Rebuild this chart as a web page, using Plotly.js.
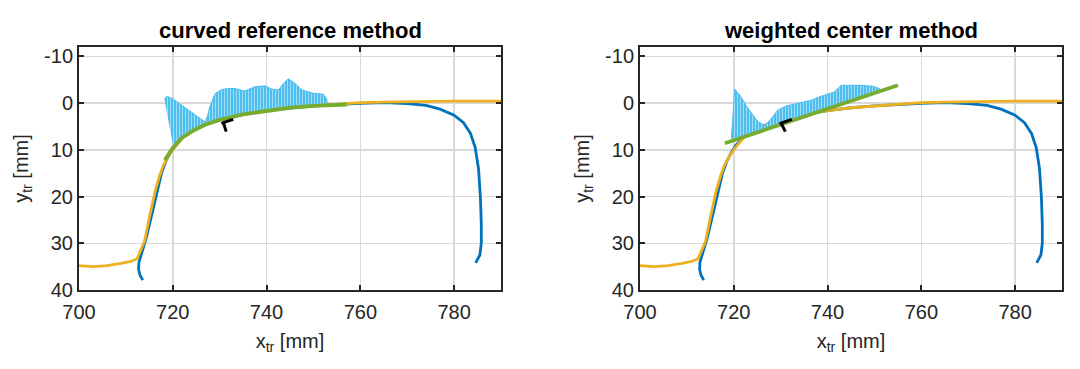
<!DOCTYPE html>
<html>
<head>
<meta charset="utf-8">
<script src="https://cdn.plot.ly/plotly-3.0.1.min.js"></script>
<style>html,body{margin:0;padding:0;background:#fff;}#chart{width:1080px;height:369px;}</style>
</head>
<body>
<div id="chart"></div>
<script>
// Measured trajectory (blue)
const blueX = [713.6, 713.0, 712.7, 712.8, 713.4, 714.3, 715.5, 716.6, 717.6, 718.5, 719.5, 720.5, 722.0, 724.5, 727.0, 730.0, 735.0, 740.0, 745.0, 750.0, 755.0, 760.0, 765.0, 770.0, 774.0, 777.0, 780.0, 782.0, 783.5, 784.5, 785.2, 785.6, 785.8, 785.8, 785.5, 784.6];
const blueY = [37.9, 36.8, 35.5, 34.0, 32.0, 29.0, 24.0, 19.0, 15.0, 12.5, 10.5, 9.0, 7.4, 5.8, 4.6, 3.6, 2.4, 1.6, 1.0, 0.6, 0.3, 0.05, -0.1, 0.1, 0.5, 1.3, 2.6, 4.2, 6.5, 9.5, 14.0, 20.0, 26.0, 30.0, 32.5, 34.2];
// Reference trajectory (yellow)
const yellowX = [699, 700, 703, 706, 709, 711, 712.4, 713.2, 714.0, 715.0, 716.2, 717.2, 718.0, 719.0, 720.0, 722.0, 724.5, 727.0, 730.0, 735.0, 740.0, 745.0, 750.0, 755.0, 760.0, 765.0, 770.0, 775.0, 780.0, 785.0, 791.0];
const yellowY = [34.8, 34.8, 35.0, 34.8, 34.3, 33.9, 33.3, 31.5, 29.5, 24.5, 19.0, 15.5, 13.3, 11.5, 10.0, 7.5, 5.8, 4.6, 3.6, 2.4, 1.6, 1.0, 0.6, 0.2, -0.1, -0.2, -0.3, -0.4, -0.4, -0.4, -0.4];

// Left panel: curved reference (green) and profile (light blue)
const curvedRefX = [718.3, 719.0, 720.0, 722.0, 724.5, 727.0, 730.0, 735.0, 740.0, 745.0, 750.0, 755.0, 757.1];
const curvedRefY = [12.2, 11.0, 9.6, 7.4, 5.8, 4.6, 3.6, 2.4, 1.6, 1.0, 0.6, 0.3, 0.3];
const profLeftX = [718.2, 718.7, 719.5, 720.5, 721.5, 723.0, 724.5, 726.0, 726.9, 727.4, 727.9, 729.0, 730.4, 731.8, 733.3, 735.4, 736.5, 737.5, 739.7, 741.1, 742.5, 743.6, 744.6, 746.1, 747.5, 750.0, 752.1, 752.8, 753.0];
const profLeftY = [-0.8, -1.4, -1.2, -0.6, 0.2, 1.2, 2.3, 3.4, 4.0, 2.8, 0.8, -2.0, -2.9, -3.1, -3.1, -2.6, -3.0, -3.5, -3.7, -3.0, -2.8, -4.2, -5.2, -4.2, -2.8, -2.1, -1.9, -1.0, 0.3];
const baseLeftX = [753.0, 750.0, 745.0, 740.0, 735.0, 730.0, 727.0, 724.5, 722.0, 720.1];
const baseLeftY = [0.35, 0.6, 1.0, 1.6, 2.4, 3.6, 4.6, 5.8, 7.4, 9.2];
const markLeftX = [730.4, 730.8, 732.9, null, 730.8, 731.4];
const markLeftY = [4.4, 4.2, 3.5, null, 4.2, 6.1];

// Right panel: weighted center line (green) and profile
const centerLineX = [718.1, 755.0];
const centerLineY = [8.6, -3.8];
const profRightX = [719.5, 719.9, 720.2, 721.3, 723.0, 725.2, 726.6, 728.0, 729.4, 731.2, 733.7, 736.5, 737.9, 739.4, 741.5, 742.9, 745.0, 747.2, 749.6, 751.1, 751.8];
const profRightY = [7.5, 1.0, -3.0, -1.7, 1.1, 4.0, 4.8, 3.3, 1.5, 0.6, 0.1, -0.6, -1.2, -1.7, -2.4, -3.8, -3.8, -3.8, -3.6, -3.1, -2.4];
const baseRightX = [751.8, 719.5];
const baseRightY = [-2.7, 8.1];
const markRightX = [729.8, 730.1, 732.4, null, 730.1, 731.0];
const markRightY = [4.5, 4.3, 3.5, null, 4.3, 6.1];

const titles = ['curved reference method', 'weighted center method'];
const xTicks = [700, 720, 740, 760, 780];
const yTicks = [-10, 0, 10, 20, 30, 40];

const C_BLUE = '#0072BD', C_YEL = '#EDB120', C_GRN = '#77AC30', C_LB = '#4DBEEE';

function panel(xa, ya, pX, pY, bX, bY, gX, gY, mX, mY) {
  const polyX = pX.concat(bX), polyY = pY.concat(bY);
  return [
    {x: blueX, y: blueY, mode: 'lines', line: {color: C_BLUE, width: 2.8}, xaxis: xa, yaxis: ya},
    {x: yellowX, y: yellowY, mode: 'lines', line: {color: C_YEL, width: 2.8}, xaxis: xa, yaxis: ya},
    {x: polyX, y: polyY, mode: 'lines', fill: 'toself', fillcolor: C_LB,
     fillpattern: {shape: '|', bgcolor: C_LB, fgcolor: '#a9e0f7', size: 3, solidity: 0.3},
     line: {color: C_LB, width: 1}, xaxis: xa, yaxis: ya},
    {x: gX, y: gY, mode: 'lines', line: {color: C_GRN, width: 3.8}, xaxis: xa, yaxis: ya},
    {x: mX, y: mY, mode: 'lines', line: {color: '#000000', width: 3}, connectgaps: false, xaxis: xa, yaxis: ya}
  ];
}

const data = [].concat(
  panel('x', 'y', profLeftX, profLeftY, baseLeftX, baseLeftY, curvedRefX, curvedRefY, markLeftX, markLeftY),
  panel('x2', 'y2', profRightX, profRightY, baseRightX, baseRightY, centerLineX, centerLineY, markRightX, markRightY)
);

const FONT = 'Liberation Sans, Arial, Helvetica, sans-serif';
function xax(dom, anchor) {
  return {domain: dom, anchor: anchor, range: [700, 790], tickvals: xTicks, ticktext: xTicks.map(String),
    showline: true, mirror: 'ticks', linecolor: '#262626', linewidth: 2, ticks: 'inside', ticklen: 5, tickwidth: 2, tickcolor: '#262626',
    showgrid: true, gridcolor: '#d9d9d9', gridwidth: 1.5, zeroline: false,
    tickfont: {family: FONT, size: 20, color: '#262626'}, ticklabelstandoff: 3,
    title: {text: 'x<sub>tr</sub> [mm]', font: {family: FONT, size: 20, color: '#262626'}, standoff: 12}};
}
function yax(dom, anchor) {
  return {domain: dom, anchor: anchor, range: [40, -12], tickvals: yTicks, ticktext: yTicks.map(String),
    showline: true, mirror: 'ticks', linecolor: '#262626', linewidth: 2, ticks: 'inside', ticklen: 5, tickwidth: 2, tickcolor: '#262626',
    showgrid: true, gridcolor: '#d9d9d9', gridwidth: 1.5, zeroline: false,
    tickfont: {family: FONT, size: 20, color: '#262626'},
    title: {text: 'y<sub>tr</sub> [mm]', font: {family: FONT, size: 20, color: '#262626'}, standoff: 10}};
}
const yDom = [1 - 290/369, 1 - 47/369];
const layout = {
  width: 1080, height: 369, margin: {l: 0, r: 0, t: 0, b: 0},
  paper_bgcolor: '#ffffff', plot_bgcolor: '#ffffff', showlegend: false,
  xaxis: xax([79/1080, 501/1080], 'y'),
  yaxis: yax(yDom, 'x'),
  xaxis2: xax([640/1080, 1062/1080], 'y2'),
  yaxis2: yax(yDom, 'x2'),
  annotations: titles.map((t, i) => ({text: '<b>' + t + '</b>', xref: 'paper', yref: 'paper',
    x: i === 0 ? 290/1080 : 851/1080, y: 1 - 30/369, xanchor: 'center', yanchor: 'middle', showarrow: false,
    font: {family: FONT, size: 22, color: '#000000'}}))
};
Plotly.newPlot('chart', data, layout, {staticPlot: true, displayModeBar: false});
</script>
</body>
</html>
